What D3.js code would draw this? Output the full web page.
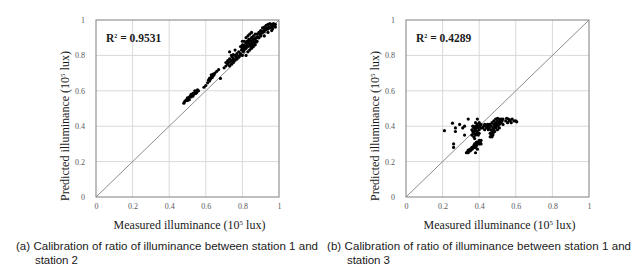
<!DOCTYPE html>
<html lang="en">

<head>
    <meta charset="UTF-8">
    <title>Calibration scatter</title>
    <script src="https://cdn.jsdelivr.net/npm/d3@7"></script>
    <style>
        * {
            margin: 0;
            padding: 0;
        }

        body {
            background: #fff;
        }
    </style>
</head>

<body>
    <div id="chart"></div>
    <script>
        // tick values shared by both axes
        var ticks = [0, 0.2, 0.4, 0.6, 0.8, 1];

        // (a) station 1 vs station 2
        var aMeasured = [0.48, 0.485, 0.49, 0.495, 0.50, 0.50, 0.505, 0.51, 0.515, 0.52, 0.52, 0.525, 0.53, 0.535, 0.54, 0.54, 0.545, 0.55, 0.555, 0.56, 0.51, 0.53, 0.545, 0.55,
            0.59, 0.60, 0.61, 0.615, 0.62, 0.625, 0.63, 0.635, 0.64, 0.64, 0.645, 0.65, 0.62, 0.63, 0.66, 0.68, 0.67,
            0.70, 0.71, 0.72, 0.72, 0.725, 0.73, 0.73, 0.735, 0.74, 0.74, 0.745, 0.75, 0.75, 0.755, 0.76, 0.76, 0.765, 0.77, 0.77, 0.775, 0.73, 0.74, 0.76, 0.78, 0.78, 0.785, 0.79, 0.795, 0.71, 0.75,
            0.80, 0.80, 0.805, 0.81, 0.81, 0.815, 0.82, 0.82, 0.825, 0.83, 0.83, 0.835, 0.84, 0.84, 0.845, 0.85, 0.85, 0.855, 0.86, 0.86, 0.865, 0.87, 0.87, 0.875, 0.88, 0.88, 0.885, 0.89, 0.82, 0.83, 0.84, 0.85, 0.86, 0.80, 0.81, 0.82, 0.83, 0.84, 0.845, 0.855, 0.865, 0.875, 0.835, 0.825, 0.815, 0.805, 0.79, 0.80, 0.85, 0.86, 0.87, 0.88, 0.89, 0.895,
            0.90, 0.90, 0.905, 0.91, 0.91, 0.915, 0.92, 0.92, 0.925, 0.93, 0.93, 0.935, 0.94, 0.94, 0.945, 0.95, 0.95, 0.955, 0.96, 0.96, 0.965, 0.97, 0.97, 0.975, 0.98, 0.98, 0.92, 0.94, 0.96];
        var aPredicted = [0.53, 0.54, 0.545, 0.55, 0.545, 0.56, 0.555, 0.565, 0.57, 0.565, 0.58, 0.575, 0.585, 0.58, 0.59, 0.60, 0.595, 0.60, 0.605, 0.60, 0.55, 0.57, 0.585, 0.59,
            0.62, 0.63, 0.645, 0.66, 0.67, 0.665, 0.68, 0.675, 0.685, 0.695, 0.69, 0.70, 0.655, 0.69, 0.71, 0.67, 0.72,
            0.73, 0.74, 0.75, 0.77, 0.76, 0.74, 0.78, 0.765, 0.75, 0.77, 0.79, 0.76, 0.78, 0.77, 0.775, 0.80, 0.79, 0.78, 0.81, 0.795, 0.82, 0.80, 0.83, 0.79, 0.82, 0.80, 0.81, 0.83, 0.76, 0.805,
            0.80, 0.84, 0.82, 0.83, 0.86, 0.85, 0.84, 0.87, 0.86, 0.85, 0.88, 0.87, 0.86, 0.89, 0.88, 0.87, 0.90, 0.885, 0.88, 0.91, 0.895, 0.89, 0.86, 0.90, 0.88, 0.92, 0.905, 0.90, 0.80, 0.82, 0.83, 0.84, 0.85, 0.86, 0.88, 0.90, 0.91, 0.92, 0.85, 0.86, 0.87, 0.875, 0.89, 0.88, 0.84, 0.85, 0.85, 0.88, 0.93, 0.89, 0.92, 0.90, 0.93, 0.92,
            0.91, 0.94, 0.925, 0.93, 0.955, 0.94, 0.935, 0.96, 0.95, 0.945, 0.97, 0.955, 0.95, 0.975, 0.96, 0.955, 0.98, 0.965, 0.96, 0.975, 0.95, 0.965, 0.98, 0.97, 0.96, 0.975, 0.91, 0.93, 0.94];

        // (b) station 1 vs station 3
        var bMeasured = [0.21, 0.254, 0.27, 0.27, 0.293, 0.32, 0.34, 0.32, 0.39, 0.26, 0.26, 0.31,
            0.36, 0.36, 0.365, 0.37, 0.37, 0.37, 0.375, 0.38, 0.38, 0.38, 0.385, 0.39, 0.39, 0.39, 0.395, 0.40, 0.40, 0.40, 0.405, 0.41, 0.41, 0.375, 0.385, 0.395, 0.365, 0.38, 0.40,
            0.33, 0.335, 0.34, 0.345, 0.35, 0.35, 0.355, 0.36, 0.36, 0.365, 0.37, 0.37, 0.375, 0.38, 0.38, 0.385, 0.39, 0.39, 0.395, 0.40, 0.40, 0.405, 0.41, 0.41, 0.375, 0.385, 0.34,
            0.42, 0.425, 0.43, 0.43, 0.44, 0.44, 0.445, 0.45, 0.45, 0.455, 0.46, 0.46, 0.46, 0.465, 0.465, 0.47, 0.47, 0.47, 0.475, 0.475, 0.48, 0.48, 0.48, 0.485, 0.49, 0.49, 0.49, 0.495, 0.50, 0.50, 0.50, 0.505, 0.51, 0.51, 0.515, 0.52, 0.52, 0.525, 0.53, 0.53, 0.485, 0.475, 0.465, 0.455, 0.50, 0.51,
            0.545, 0.55, 0.56, 0.565, 0.57, 0.575, 0.58, 0.59, 0.60, 0.605, 0.555];
        var bPredicted = [0.375, 0.417, 0.37, 0.39, 0.41, 0.40, 0.44, 0.35, 0.44, 0.28, 0.30, 0.39,
            0.35, 0.38, 0.37, 0.34, 0.36, 0.39, 0.375, 0.35, 0.38, 0.40, 0.39, 0.37, 0.40, 0.41, 0.39, 0.38, 0.40, 0.42, 0.405, 0.39, 0.41, 0.33, 0.36, 0.35, 0.40, 0.42, 0.36,
            0.25, 0.255, 0.25, 0.26, 0.26, 0.27, 0.265, 0.27, 0.28, 0.275, 0.28, 0.29, 0.285, 0.28, 0.25, 0.29, 0.30, 0.27, 0.31, 0.30, 0.32, 0.31, 0.32, 0.30, 0.30, 0.31, 0.265,
            0.39, 0.40, 0.38, 0.41, 0.39, 0.40, 0.41, 0.38, 0.40, 0.39, 0.34, 0.36, 0.41, 0.35, 0.40, 0.34, 0.37, 0.42, 0.36, 0.39, 0.38, 0.41, 0.43, 0.40, 0.39, 0.42, 0.44, 0.41, 0.40, 0.43, 0.445, 0.42, 0.41, 0.44, 0.43, 0.42, 0.44, 0.43, 0.41, 0.44, 0.37, 0.35, 0.38, 0.41, 0.38, 0.39,
            0.43, 0.445, 0.44, 0.43, 0.435, 0.42, 0.44, 0.43, 0.43, 0.425, 0.42];

        var r2Labels = ['0.9531', '0.4289'];
        var captions = [
            ['(a) Calibration of ratio of illuminance between station 1 and', 'station 2'],
            ['(b) Calibration of ratio of illuminance between station 1 and', 'station 3']
        ];

        const svgWidth = 643;
        const svgHeight = 271;

        // 每个面板的位置
        const panels = [
            { left: 96, xs: aMeasured, ys: aPredicted, r2: r2Labels[0], cap: captions[0], capX: 16, cap2X: 35, capW: 302 },
            { left: 406, xs: bMeasured, ys: bPredicted, r2: r2Labels[1], cap: captions[1], capX: 327, cap2X: 347, capW: 304 }
        ];
        const plotTop = 20;
        const plotW = 183;
        const plotH = 177;

        var svg = d3.select('#chart')
            .append('svg')
            .attr('width', svgWidth)
            .attr('height', svgHeight);

        panels.forEach(p => {
            let x = d3.scaleLinear().domain([0, 1]).range([0, plotW]);
            let y = d3.scaleLinear().domain([0, 1]).range([plotH, 0]);

            let g = svg.append('g')
                .attr('transform', `translate(${p.left},${plotTop})`);

            // grid lines
            g.append('g')
                .selectAll('line')
                .data(ticks.slice(1, -1))
                .enter()
                .append('line')
                .attr('x1', d => x(d)).attr('x2', d => x(d))
                .attr('y1', 0).attr('y2', plotH)
                .attr('stroke', '#d9d9d9');
            g.append('g')
                .selectAll('line')
                .data(ticks.slice(1, -1))
                .enter()
                .append('line')
                .attr('x1', 0).attr('x2', plotW)
                .attr('y1', d => y(d)).attr('y2', d => y(d))
                .attr('stroke', '#d9d9d9');

            // axes (only labels kept)
            let xAxisG = g.append('g')
                .attr('transform', `translate(0,${plotH})`)
                .call(d3.axisBottom(x).tickValues(ticks).tickFormat(d3.format('~g')).tickSize(0).tickPadding(6));
            let yAxisG = g.append('g')
                .call(d3.axisLeft(y).tickValues(ticks).tickFormat(d3.format('~g')).tickSize(0).tickPadding(11));
            [xAxisG, yAxisG].forEach(a => {
                a.select('path').remove();
                a.selectAll('text')
                    .attr('font-family', 'Liberation Serif')
                    .attr('font-size', '8px')
                    .attr('fill', '#595959');
            });

            // 1:1 line
            g.append('line')
                .attr('x1', x(0)).attr('y1', y(0))
                .attr('x2', x(1)).attr('y2', y(1))
                .attr('stroke', '#8c8c8c')
                .attr('stroke-width', 1);

            // frame
            g.append('rect')
                .attr('x', 0).attr('y', 0)
                .attr('width', plotW).attr('height', plotH)
                .attr('fill', 'none')
                .attr('stroke', '#7f7f7f');

            // points
            g.selectAll('circle')
                .data(p.xs.map((v, i) => [v, p.ys[i]]))
                .enter()
                .append('circle')
                .attr('cx', d => x(d[0]))
                .attr('cy', d => y(d[1]))
                .attr('r', 1.6)
                .attr('fill', '#000');

            // R² label
            let r2 = g.append('text')
                .attr('x', 10)
                .attr('y', 22)
                .attr('font-family', 'Liberation Serif')
                .attr('font-weight', 'bold')
                .attr('font-size', '11.5px')
                .attr('fill', '#1a1a1a');
            r2.append('tspan').text('R');
            r2.append('tspan').text('2').attr('font-size', '6px').attr('dy', -4);
            r2.append('tspan').text(' = ' + p.r2).attr('dy', 4);

            // axis titles
            let xt = svg.append('text')
                .attr('x', p.left + plotW / 2 + 2)
                .attr('y', 228.5)
                .attr('text-anchor', 'middle')
                .attr('font-family', 'Liberation Serif')
                .attr('font-size', '12px')
                .attr('fill', '#1a1a1a');
            xt.append('tspan').text('Measured illuminance (10');
            xt.append('tspan').text('5').attr('font-size', '7px').attr('dy', -4);
            xt.append('tspan').text(' lux)').attr('dy', 4);

            let yt = svg.append('text')
                .attr('transform', `translate(${p.left - 27},${plotTop + 106}) rotate(-90)`)
                .attr('text-anchor', 'middle')
                .attr('font-family', 'Liberation Serif')
                .attr('font-size', '12px')
                .attr('fill', '#1a1a1a');
            yt.append('tspan').text('Predicted illuminance (10');
            yt.append('tspan').text('5').attr('font-size', '7px').attr('dy', -4);
            yt.append('tspan').text(' lux)').attr('dy', 4);

            // caption
            svg.append('text')
                .attr('x', p.capX)
                .attr('y', 249.5)
                .attr('font-family', 'Liberation Sans')
                .attr('font-size', '11.5px')
                .attr('fill', '#1a1a1a')
                .attr('textLength', p.capW)
                .attr('lengthAdjust', 'spacing')
                .text(p.cap[0]);
            svg.append('text')
                .attr('x', p.cap2X)
                .attr('y', 264)
                .attr('font-family', 'Liberation Sans')
                .attr('font-size', '11.5px')
                .attr('fill', '#1a1a1a')
                .attr('textLength', 43)
                .attr('lengthAdjust', 'spacing')
                .text(p.cap[1]);
        });
    </script>
</body>

</html>
